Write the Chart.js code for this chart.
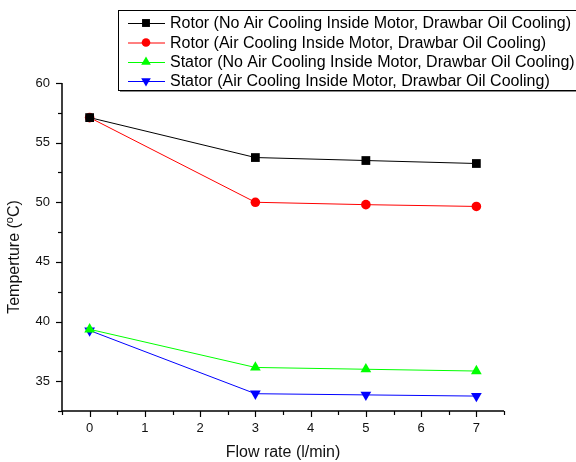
<!DOCTYPE html>
<html>
<head>
<meta charset="utf-8">
<script src="https://cdn.jsdelivr.net/npm/chart.js@4/dist/chart.umd.min.js"></script>
<style>
  html, body { margin: 0; padding: 0; background: #fff; }
  #wrap { width: 576px; height: 462px; }
</style>
</head>
<body>
<div id="wrap"><canvas id="diagram" width="576" height="462"></canvas></div>
<script>
// donnees
var flowRate = [0, 3, 5, 7];
var rotorNoAir = [57.1, 53.75, 53.5, 53.25];
var rotorAir = [57.1, 50.0, 49.8, 49.65];
var statorNoAir = [39.35, 36.15, 36.0, 35.85];
var statorAir = [39.25, 33.95, 33.85, 33.75];

var seriesNames = [
  'Rotor (No Air Cooling Inside Motor, Drawbar Oil Cooling)',
  'Rotor (Air Cooling Inside Motor, Drawbar Oil Cooling)',
  'Stator (No Air Cooling Inside Motor, Drawbar Oil Cooling)',
  'Stator (Air Cooling Inside Motor, Drawbar Oil Cooling)'
];
var xTickLabels = ['0', '1', '2', '3', '4', '5', '6', '7'];
var yTickLabels = ['35', '40', '45', '50', '55', '60'];

var FONT = "'Liberation Sans', Arial, sans-serif";

function pts(vals) {
  return vals.map(function (v, i) { return { x: flowRate[i], y: v }; });
}

var styles = [
  { color: '#000000', pointStyle: 'rect', radius: 6.2, rotation: 0 },
  { color: '#ff0000', pointStyle: 'circle', radius: 4.8, rotation: 0 },
  { color: '#00ff00', pointStyle: 'triangle', radius: 6.2, rotation: 0 },
  { color: '#0000ff', pointStyle: 'triangle', radius: 6.2, rotation: 180 }
];
var allValues = [rotorNoAir, rotorAir, statorNoAir, statorAir];

var datasets = allValues.map(function (vals, i) {
  var s = styles[i];
  return {
    label: seriesNames[i],
    data: pts(vals),
    borderColor: s.color,
    backgroundColor: s.color,
    borderWidth: 1,
    pointStyle: s.pointStyle,
    pointRadius: s.radius,
    pointRotation: s.rotation,
    pointBorderWidth: 0,
    pointBackgroundColor: s.color,
    tension: 0
  };
});

// petites graduations, titre Y avec exposant et legende dessinee a la main (style Origin)
var origin = {
  id: 'origin',
  afterDraw: function (chart) {
    var ctx = chart.ctx;
    var xs = chart.scales.x, ys = chart.scales.y;
    var area = chart.chartArea;
    ctx.save();
    ctx.strokeStyle = '#000';
    ctx.lineWidth = 1.5;
    // axes
    ctx.beginPath();
    ctx.moveTo(area.left, area.top);
    ctx.lineTo(area.left, area.bottom);
    ctx.lineTo(area.right, area.bottom);
    ctx.stroke();
    ctx.lineWidth = 1.2;
    // graduations x
    for (var v = -0.5; v <= 7.5; v += 0.5) {
      var px = Math.round(xs.getPixelForValue(v)) + 0.5;
      var len = (v % 1 === 0) ? 6 : 4;
      ctx.beginPath();
      ctx.moveTo(px, area.bottom);
      ctx.lineTo(px, area.bottom + len);
      ctx.stroke();
    }
    // graduations y
    for (var w = 32.5; w <= 60; w += 2.5) {
      var py = Math.round(ys.getPixelForValue(w)) + 0.5;
      var l = (w % 5 === 0) ? 6 : 4;
      ctx.beginPath();
      ctx.moveTo(area.left, py);
      ctx.lineTo(area.left - l, py);
      ctx.stroke();
    }

    // titre Y : Temperture (°C) avec le o en exposant
    var big = '16px ' + FONT, small = '11px ' + FONT;
    var p1 = 'Temperture (', p2 = 'o', p3 = 'C)';
    ctx.font = big;
    var w1 = ctx.measureText(p1).width, w3 = ctx.measureText(p3).width;
    ctx.font = small;
    var w2 = ctx.measureText(p2).width;
    var total = w1 + w2 + w3;
    ctx.save();
    ctx.translate(15, 257);
    ctx.rotate(-Math.PI / 2);
    ctx.fillStyle = '#111';
    ctx.textBaseline = 'middle';
    ctx.textAlign = 'left';
    var sx = -total / 2;
    ctx.font = big;
    ctx.fillText(p1, sx, 0);
    ctx.font = small;
    ctx.fillText(p2, sx + w1, -5);
    ctx.font = big;
    ctx.fillText(p3, sx + w1 + w2, 0);
    ctx.restore();

    // legende
    var bx = 118, by = 10, bw = 470, bh = 80;
    ctx.fillStyle = '#fff';
    ctx.fillRect(bx, by, bw, bh);
    ctx.fillStyle = '#888';
    ctx.fillRect(bx + 2, by + bh, bw, 2);
    ctx.strokeStyle = '#000';
    ctx.lineWidth = 1;
    ctx.strokeRect(bx + 0.5, by + 0.5, bw, bh);
    var rows = [23, 42.5, 62, 81];
    ctx.font = '16px ' + FONT;
    ctx.textBaseline = 'middle';
    ctx.textAlign = 'left';
    for (var i = 0; i < datasets.length; i++) {
      var s = styles[i];
      var y = rows[i];
      ctx.strokeStyle = s.color;
      ctx.lineWidth = 1;
      ctx.beginPath();
      ctx.moveTo(128, y + 0.5);
      ctx.lineTo(165, y + 0.5);
      ctx.stroke();
      ctx.fillStyle = s.color;
      Chart.helpers.drawPoint(ctx, {
        pointStyle: s.pointStyle,
        radius: s.radius * 0.9,
        rotation: s.rotation,
        borderWidth: 0
      }, 146, y);
      ctx.fillStyle = '#000';
      ctx.fillText(seriesNames[i], 170, y + 1);
    }
    ctx.restore();
  }
};

var ctx = document.getElementById('diagram').getContext('2d');
var myChart = new Chart(ctx, {
  type: 'line',
  data: { datasets: datasets },
  options: {
    responsive: false,
    animation: false,
    devicePixelRatio: 1,
    layout: { padding: { top: 83, right: 72, bottom: 0, left: 0 } },
    plugins: { legend: { display: false }, tooltip: { enabled: false } },
    scales: {
      x: {
        type: 'linear',
        min: -0.5,
        max: 7.5,
        afterBuildTicks: function (scale) {
          scale.ticks = xTickLabels.map(function (t) { return { value: Number(t) }; });
        },
        afterFit: function (scale) { scale.height = 51; },
        grid: { display: false, drawTicks: false },
        border: { display: false },
        ticks: {
          padding: 10,
          color: '#111',
          font: { family: FONT, size: 13 },
          callback: function (v) { return String(v); },
          maxRotation: 0
        },
        title: {
          display: true,
          text: 'Flow rate (l/min)',
          color: '#111',
          font: { family: FONT, size: 16 },
          padding: { top: 4, bottom: 0 }
        }
      },
      y: {
        type: 'linear',
        min: 32.5,
        max: 60,
        afterBuildTicks: function (scale) {
          scale.ticks = yTickLabels.map(function (t) { return { value: Number(t) }; });
        },
        afterFit: function (scale) { scale.width = 62; },
        grid: { display: false, drawTicks: false },
        border: { display: false },
        ticks: {
          padding: 12,
          color: '#111',
          font: { family: FONT, size: 13 },
          callback: function (v) { return String(v); }
        },
        title: { display: false }
      }
    }
  },
  plugins: [origin]
});
</script>
</body>
</html>
